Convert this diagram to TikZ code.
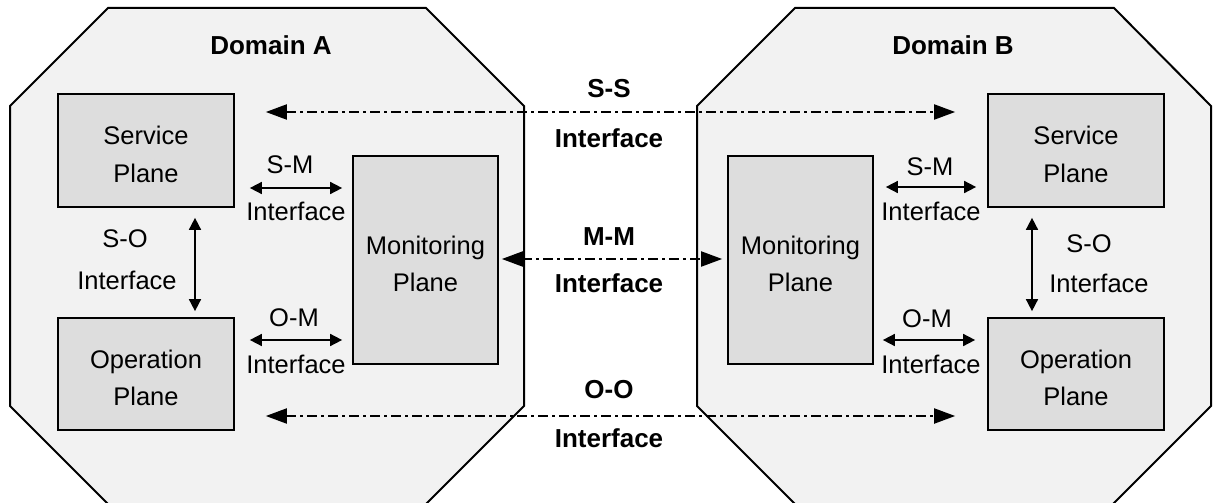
\documentclass[tikz,border=0pt]{standalone}
\usepackage{fontspec}
\setmainfont{Liberation Sans}
\usetikzlibrary{arrows.meta,calc}
\definecolor{domfill}{HTML}{F2F2F2}
\definecolor{planefill}{HTML}{DDDDDD}
\newcommand{\toplift}{\rule{0pt}{26pt}}
\begin{document}
\begin{tikzpicture}[x=1pt,y=-1pt,
  domshape/.style={draw=black,line width=2pt,fill=domfill,line join=miter},
  plane/.style={draw=black,line width=1.7pt,fill=planefill,align=center,inner sep=0pt,
    font=\fontsize{25.5}{37.5}\selectfont},
  lbl/.style={font=\fontsize{25.5}{30}\selectfont,inner sep=0pt,text height=18.3pt,text depth=0pt},
  blbl/.style={font=\fontsize{26}{30}\selectfont\bfseries,inner sep=0pt,text height=18.7pt,text depth=0pt},
  bi/.style={line width=1.6pt,{Triangle[length=12pt,width=12pt]}-{Triangle[length=12pt,width=12pt]}},
  ddarrow/.style={line width=2pt,dash pattern=on 10pt off 4pt on 3pt off 4pt,
    {Triangle[length=21pt,width=15pt]}-{Triangle[length=21pt,width=15pt]}}]
\useasboundingbox (0,0) rectangle (1213,503);
% domains
\draw[domshape] (108,8) -- (426,8) -- (524,106) -- (524,406) -- (424,506) -- (110,506) -- (10,406) -- (10,106) -- cycle;
\draw[domshape] (795,8) -- (1114,8) -- (1211,106) -- (1211,406) -- (1111,506) -- (797,506) -- (697,406) -- (697,106) -- cycle;
\node[blbl] (domA) at (271,45) {Domain A};
\node[blbl] (domB) at (953,45) {Domain B};
% planes
\node[plane,minimum width=176pt,minimum height=113pt] (svcA) at (146,150.5) {\toplift Service\\Plane};
\node[plane,minimum width=176pt,minimum height=112pt] (opA) at (146,374) {\toplift Operation\\Plane};
\node[plane,minimum width=145pt,minimum height=208pt] (monA) at (425.5,260) {\toplift Monitoring\\Plane};
\node[plane,minimum width=145pt,minimum height=208pt] (monB) at (800.5,260) {\toplift Monitoring\\Plane};
\node[plane,minimum width=176pt,minimum height=113pt] (svcB) at (1076,150.5) {\toplift Service\\Plane};
\node[plane,minimum width=176pt,minimum height=112pt] (opB) at (1076,374) {\toplift Operation\\Plane};
% intra-domain arrows
\draw[bi] ($(svcA.east)+(15,37.5)$) -- ($(monA.west)+(-10,-72)$);
\draw[bi] ($(opA.east)+(15,-34)$) -- ($(monA.west)+(-10,80)$);
\draw[bi] ($(svcA.south)+(49,10)$) -- ($(opA.north)+(49,-6)$);
\draw[bi] ($(monB.east)+(12,-73)$) -- ($(svcB.west)+(-11,36.5)$);
\draw[bi] ($(monB.east)+(9,80)$) -- ($(opB.west)+(-12,-34)$);
\draw[bi] ($(svcB.south)+(-44,10)$) -- ($(opB.north)+(-44,-6)$);
% inter-domain arrows
\draw[ddarrow] ($(svcA.east)+(31,-38.5)$) -- ($(svcB.west)+(-32,-38.5)$);
\draw[ddarrow] ($(monA.east)+(3,-1)$) -- ($(monB.west)+(-5,-1)$);
\draw[ddarrow] ($(opA.east)+(31,42)$) -- ($(opB.west)+(-32,42)$);
% labels domain A
\node[lbl] (smA) at (290,164) {S-M};
\node[lbl] (smAi) at (296,211) {Interface};
\node[lbl] (omA) at (294,317) {O-M};
\node[lbl] (omAi) at (296,364) {Interface};
\node[lbl] (soA) at (125,238) {S-O};
\node[lbl] (soAi) at (127,280) {Interface};
% labels domain B
\node[lbl] (smB) at (930,166) {S-M};
\node[lbl] (smBi) at (931,211) {Interface};
\node[lbl] (omB) at (927,318) {O-M};
\node[lbl] (omBi) at (931,364) {Interface};
\node[lbl] (soB) at (1089,243) {S-O};
\node[lbl] (soBi) at (1099,283) {Interface};
% center labels
\node[blbl] (ss) at (609,88) {S-S};
\node[blbl] (ssi) at (609,138) {Interface};
\node[blbl] (mm) at (609,236) {M-M};
\node[blbl] (mmi) at (609,283) {Interface};
\node[blbl] (oo) at (609,389) {O-O};
\node[blbl] (ooi) at (609,438) {Interface};
\end{tikzpicture}
\end{document}
